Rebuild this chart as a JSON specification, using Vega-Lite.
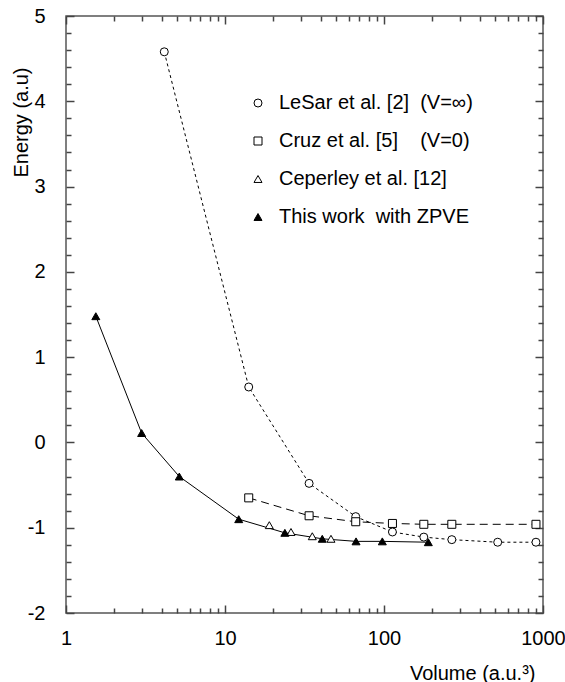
{
  "$schema": "https://vega.github.io/schema/vega-lite/v6.json",
  "width": 477,
  "height": 597,
  "autosize": "none",
  "padding": {"left": 66, "top": 16, "right": 22, "bottom": 69},
  "background": "white",
  "config": {
    "view": {"stroke": "#555555", "strokeWidth": 1.5},
    "font": "Liberation Sans",
    "axis": {
      "grid": false,
      "domain": false,
      "labelFont": "Liberation Sans",
      "labelFontSize": 20,
      "labelColor": "black",
      "titleFont": "Liberation Sans",
      "titleFontSize": 20,
      "titleFontWeight": "normal",
      "titleColor": "black"
    }
  },
  "data": {
    "values": [
      {"series": "LeSar et al. [2]\u00a0\u00a0(V=∞)", "V": 4.15, "E": 4.58},
      {"series": "LeSar et al. [2]\u00a0\u00a0(V=∞)", "V": 14.1, "E": 0.65},
      {"series": "LeSar et al. [2]\u00a0\u00a0(V=∞)", "V": 33.8, "E": -0.48},
      {"series": "LeSar et al. [2]\u00a0\u00a0(V=∞)", "V": 66.4, "E": -0.87},
      {"series": "LeSar et al. [2]\u00a0\u00a0(V=∞)", "V": 113, "E": -1.05},
      {"series": "LeSar et al. [2]\u00a0\u00a0(V=∞)", "V": 178, "E": -1.11},
      {"series": "LeSar et al. [2]\u00a0\u00a0(V=∞)", "V": 267, "E": -1.14},
      {"series": "LeSar et al. [2]\u00a0\u00a0(V=∞)", "V": 519, "E": -1.17},
      {"series": "LeSar et al. [2]\u00a0\u00a0(V=∞)", "V": 903, "E": -1.17},
      {"series": "Cruz et al. [5]\u00a0\u00a0\u00a0\u00a0(V=0)", "V": 14.1, "E": -0.65},
      {"series": "Cruz et al. [5]\u00a0\u00a0\u00a0\u00a0(V=0)", "V": 33.8, "E": -0.86},
      {"series": "Cruz et al. [5]\u00a0\u00a0\u00a0\u00a0(V=0)", "V": 66.4, "E": -0.93},
      {"series": "Cruz et al. [5]\u00a0\u00a0\u00a0\u00a0(V=0)", "V": 113, "E": -0.95},
      {"series": "Cruz et al. [5]\u00a0\u00a0\u00a0\u00a0(V=0)", "V": 178, "E": -0.96},
      {"series": "Cruz et al. [5]\u00a0\u00a0\u00a0\u00a0(V=0)", "V": 267, "E": -0.96},
      {"series": "Cruz et al. [5]\u00a0\u00a0\u00a0\u00a0(V=0)", "V": 903, "E": -0.96},
      {"series": "Ceperley et al. [12]", "V": 19.0, "E": -0.97},
      {"series": "Ceperley et al. [12]", "V": 26.0, "E": -1.05},
      {"series": "Ceperley et al. [12]", "V": 35.4, "E": -1.10},
      {"series": "Ceperley et al. [12]", "V": 46.4, "E": -1.13},
      {"series": "This work\u00a0 with ZPVE", "V": 1.54, "E": 1.48},
      {"series": "This work\u00a0 with ZPVE", "V": 2.99, "E": 0.11},
      {"series": "This work\u00a0 with ZPVE", "V": 5.16, "E": -0.40},
      {"series": "This work\u00a0 with ZPVE", "V": 12.2, "E": -0.90},
      {"series": "This work\u00a0 with ZPVE", "V": 23.8, "E": -1.06},
      {"series": "This work\u00a0 with ZPVE", "V": 40.9, "E": -1.13},
      {"series": "This work\u00a0 with ZPVE", "V": 66.7, "E": -1.16},
      {"series": "This work\u00a0 with ZPVE", "V": 97.6, "E": -1.16},
      {"series": "This work\u00a0 with ZPVE", "V": 190, "E": -1.17}
    ]
  },
  "layer": [
    {
      "transform": [{"filter": "indexof(datum.series, 'LeSar') === 0"}],
      "mark": {"type": "line", "color": "black", "strokeWidth": 1, "strokeDash": [3, 3]},
      "encoding": {
        "x": {
          "field": "V", "type": "quantitative",
          "scale": {"type": "log", "domain": [1, 1000], "nice": false},
          "axis": {
            "orient": "bottom",
            "tickSize": -8, "tickColor": "#444444", "tickWidth": 1.5,
            "labelFlush": false,
            "title": "Volume (a.u.³)",
            "titleAnchor": "end",
            "titleAlign": "right",
            "titleX": 469,
            "titleY": 66,
            "titleBaseline": "alphabetic",
            "values": [1, 10, 100, 1000],
            "labelExpr": "'' + datum.value",
            "labelPadding": 23
          }
        },
        "y": {
          "field": "E", "type": "quantitative",
          "scale": {"domain": [-2, 5], "nice": false, "zero": false},
          "axis": {
            "orient": "left",
            "tickSize": -8, "tickColor": "#444444", "tickWidth": 1.5,
            "title": "Energy (a.u)",
            "titleAngle": 270,
            "titleX": -45,
            "titleY": 106,
            "titleAlign": "center",
            "titleBaseline": "middle",
            "values": [-2, -1, 0, 1, 2, 3, 4, 5],
            "labelExpr": "'' + round(datum.value)",
            "labelPadding": 29
          }
        }
      }
    },
    {
      "transform": [{"filter": "indexof(datum.series, 'Cruz') === 0"}],
      "mark": {"type": "line", "color": "black", "strokeWidth": 1, "strokeDash": [8, 5]},
      "encoding": {
        "x": {
          "field": "V", "type": "quantitative",
          "axis": {
            "orient": "bottom", "title": null, "labels": false,
            "tickSize": -5, "tickColor": "#444444", "tickWidth": 1.5,
            "values": [2,3,4,5,6,7,8,9,20,30,40,50,60,70,80,90,200,300,400,500,600,700,800,900]
          }
        },
        "y": {
          "field": "E", "type": "quantitative",
          "axis": {
            "orient": "left", "title": null, "labels": false,
            "tickSize": -5, "tickColor": "#444444", "tickWidth": 1.5,
            "values": [-1.8,-1.6,-1.4,-1.2,-0.8,-0.6,-0.4,-0.2,0.2,0.4,0.6,0.8,1.2,1.4,1.6,1.8,2.2,2.4,2.6,2.8,3.2,3.4,3.6,3.8,4.2,4.4,4.6,4.8]
          }
        }
      }
    },
    {
      "transform": [{"filter": "indexof(datum.series, 'This') === 0"}],
      "mark": {"type": "line", "color": "black", "strokeWidth": 1},
      "encoding": {
        "x": {
          "field": "V", "type": "quantitative",
          "axis": {
            "orient": "top", "title": null, "labels": false,
            "tickSize": -8, "tickColor": "#444444", "tickWidth": 1.5,
            "values": [1, 10, 100, 1000]
          }
        },
        "y": {
          "field": "E", "type": "quantitative",
          "axis": {
            "orient": "right", "title": null, "labels": false,
            "tickSize": -8, "tickColor": "#444444", "tickWidth": 1.5,
            "values": [-2, -1, 0, 1, 2, 3, 4, 5]
          }
        }
      }
    },
    {
      "mark": {"type": "point", "filled": true, "strokeWidth": 1, "opacity": 1},
      "encoding": {
        "x": {
          "field": "V", "type": "quantitative",
          "axis": {
            "orient": "top", "title": null, "labels": false,
            "tickSize": -5, "tickColor": "#444444", "tickWidth": 1.5,
            "values": [2,3,4,5,6,7,8,9,20,30,40,50,60,70,80,90,200,300,400,500,600,700,800,900]
          }
        },
        "y": {
          "field": "E", "type": "quantitative",
          "axis": {
            "orient": "right", "title": null, "labels": false,
            "tickSize": -5, "tickColor": "#444444", "tickWidth": 1.5,
            "values": [-1.8,-1.6,-1.4,-1.2,-0.8,-0.6,-0.4,-0.2,0.2,0.4,0.6,0.8,1.2,1.4,1.6,1.8,2.2,2.4,2.6,2.8,3.2,3.4,3.6,3.8,4.2,4.4,4.6,4.8]
          }
        },
        "shape": {
          "field": "series", "type": "nominal",
          "scale": {
            "domain": ["LeSar et al. [2]\u00a0\u00a0(V=∞)", "Cruz et al. [5]\u00a0\u00a0\u00a0\u00a0(V=0)", "Ceperley et al. [12]", "This work\u00a0 with ZPVE"],
            "range": ["circle", "square", "triangle-up", "triangle-up"]
          },
          "legend": {"orient": "none", "legendX": 182, "legendY": 77, "title": null, "labelFontSize": 20, "labelFont": "Liberation Sans", "labelColor": "black", "rowPadding": 18, "labelOffset": 11, "symbolStrokeWidth": 1, "labelLimit": 400}
        },
        "fill": {
          "field": "series", "type": "nominal",
          "scale": {
            "domain": ["LeSar et al. [2]\u00a0\u00a0(V=∞)", "Cruz et al. [5]\u00a0\u00a0\u00a0\u00a0(V=0)", "Ceperley et al. [12]", "This work\u00a0 with ZPVE"],
            "range": ["white", "white", "white", "black"]
          },
          "legend": {"orient": "none", "legendX": 182, "legendY": 77, "title": null, "labelFontSize": 20, "labelFont": "Liberation Sans", "labelColor": "black", "rowPadding": 18, "labelOffset": 11, "symbolStrokeWidth": 1, "labelLimit": 400}
        },
        "stroke": {
          "field": "series", "type": "nominal",
          "scale": {
            "domain": ["LeSar et al. [2]\u00a0\u00a0(V=∞)", "Cruz et al. [5]\u00a0\u00a0\u00a0\u00a0(V=0)", "Ceperley et al. [12]", "This work\u00a0 with ZPVE"],
            "range": ["black", "black", "black", "black"]
          },
          "legend": {"orient": "none", "legendX": 182, "legendY": 77, "title": null, "labelFontSize": 20, "labelFont": "Liberation Sans", "labelColor": "black", "rowPadding": 18, "labelOffset": 11, "symbolStrokeWidth": 1, "labelLimit": 400}
        },
        "size": {
          "field": "series", "type": "nominal",
          "scale": {
            "domain": ["LeSar et al. [2]\u00a0\u00a0(V=∞)", "Cruz et al. [5]\u00a0\u00a0\u00a0\u00a0(V=0)", "Ceperley et al. [12]", "This work\u00a0 with ZPVE"],
            "range": [64, 64, 90, 130]
          },
          "legend": {"orient": "none", "legendX": 182, "legendY": 77, "title": null, "labelFontSize": 20, "labelFont": "Liberation Sans", "labelColor": "black", "rowPadding": 18, "labelOffset": 11, "symbolStrokeWidth": 1, "labelLimit": 400}
        }
      }
    }
  ],
  "resolve": {"axis": {"x": "independent", "y": "independent"}}
}
